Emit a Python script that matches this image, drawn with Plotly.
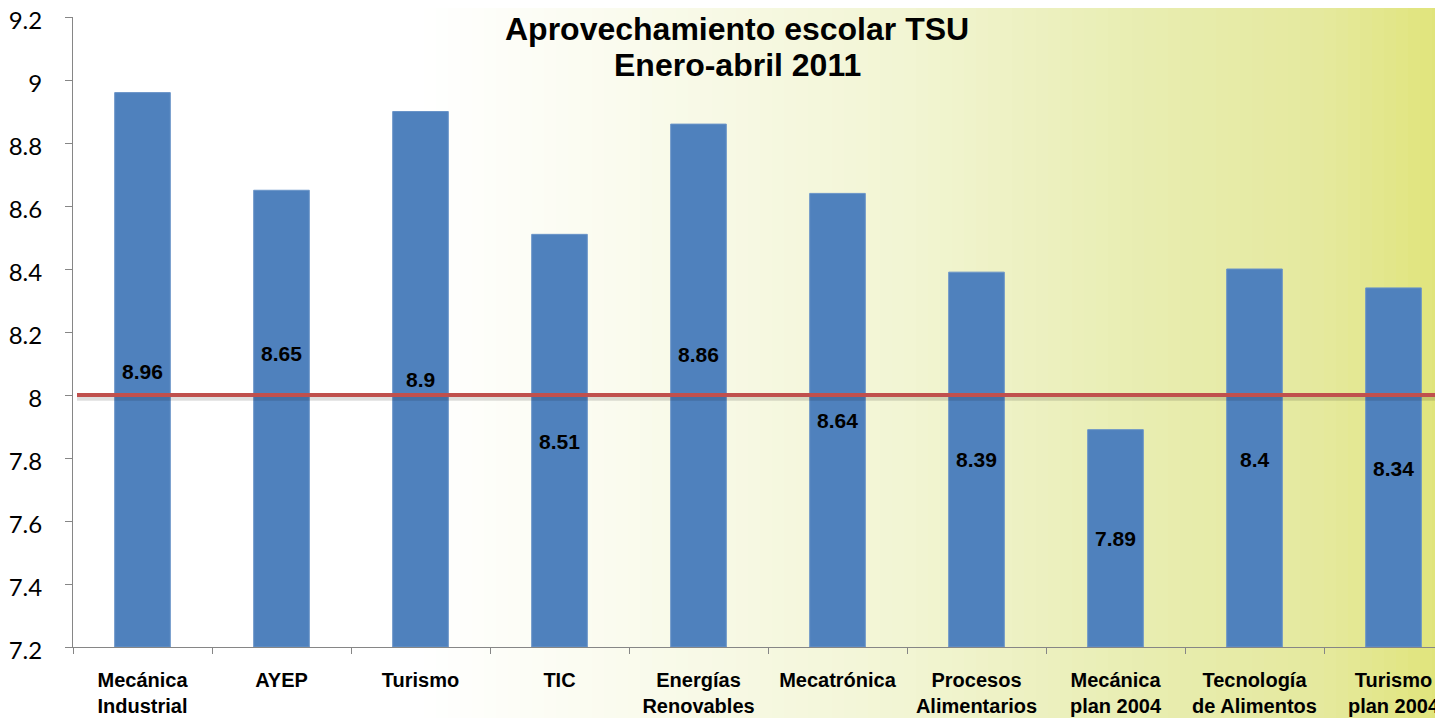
import plotly.graph_objects as go

categories = ["Mecánica<br>Industrial", "AYEP", "Turismo", "TIC", "Energías<br>Renovables",
              "Mecatrónica", "Procesos<br>Alimentarios", "Mecánica<br>plan 2004",
              "Tecnología<br>de Alimentos", "Turismo<br>plan 2004"]
values = [8.96, 8.65, 8.9, 8.51, 8.86, 8.64, 8.39, 7.89, 8.4, 8.34]
value_labels = ["8.96", "8.65", "8.9", "8.51", "8.86", "8.64", "8.39", "7.89", "8.4", "8.34"]
y_min, y_max = 7.2, 9.2
y_ticks = [7.2, 7.4, 7.6, 7.8, 8, 8.2, 8.4, 8.6, 8.8, 9, 9.2]
y_tick_text = ["7.2", "7.4", "7.6", "7.8", "8", "8.2", "8.4", "8.6", "8.8", "9", "9.2"]
threshold = 8.0
title_lines = ["Aprovechamiento escolar TSU", "Enero-abril 2011"]

# layout: vertical placement of the (manually positioned) data labels, in axis units
label_pos = [8.074, 8.132, 8.048, 7.852, 8.127, 7.918, 7.794, 7.545, 7.796, 7.767]

# page body margin offset of 8px is compensated here
OFF = 8
SW, SH = 1443, 718                       # screen size
S_LEFT, S_TOP, S_BOTTOM = 73, 17, 647    # plot area on screen
W, H = SW - OFF, SH - OFF
ml, mt = S_LEFT - OFF, S_TOP - OFF
mb = H - (S_BOTTOM - OFF)
plot_w = W - ml
plot_h = H - mt - mb

def px_x(sx):
    return (sx - S_LEFT) / plot_w
def px_y(sy):
    return (S_BOTTOM - sy) / plot_h

fig = go.Figure()
fig.add_trace(go.Bar(
    x=categories, y=[v - y_min for v in values], base=y_min,
    marker=dict(color="#4F81BD", line=dict(color="#6A94C8", width=1)),
    width=0.4, hoverinfo="skip",
))

annotations = []
for c, lab, yp in zip(categories, value_labels, label_pos):
    annotations.append(dict(x=c, y=yp, xref="x", yref="y", text=lab, showarrow=False,
                            xanchor="center", yanchor="middle",
                            font=dict(family="Liberation Sans", size=21, color="black",
                                      weight="bold")))
for line, ypx in zip(title_lines, [29, 65]):
    annotations.append(dict(x=px_x(737), y=px_y(ypx), xref="paper", yref="paper",
                            text="<b>%s</b>" % line, showarrow=False,
                            xanchor="center", yanchor="middle",
                            font=dict(family="Liberation Sans", size=32, color="black")))

# background gradient
stops = [(0, (255, 255, 255)), (420, (255, 255, 255)), (620, (250, 251, 238)),
         (900, (242, 245, 212)), (1150, (232, 237, 176)), (1320, (229, 233, 158)),
         (1443, (224, 228, 122))]
def col_at(px):
    for (a, ca), (b, cb) in zip(stops[:-1], stops[1:]):
        if a <= px <= b:
            t = (px - a) / (b - a) if b > a else 0
            c = [round(ca[i] + (cb[i] - ca[i]) * t) for i in range(3)]
            return "rgb(%d,%d,%d)" % tuple(c)
    return "rgb(%d,%d,%d)" % stops[-1][1]

shapes = []
step = 12
for sx in range(400, SW, step):
    shapes.append(dict(type="rect", xref="paper", yref="paper", layer="below",
                       x0=px_x(sx), x1=px_x(sx + step + 1),
                       y0=px_y(SH + 5), y1=px_y(0),
                       line=dict(width=0), fillcolor=col_at(sx + step / 2)))

shapes.append(dict(type="line", xref="paper", yref="y", x0=px_x(77), x1=px_x(1440),
                   y0=threshold - 0.007, y1=threshold - 0.007,
                   line=dict(color="rgba(0,0,0,0.13)", width=7), layer="above"))
shapes.append(dict(type="line", xref="paper", yref="y", x0=px_x(77), x1=px_x(1437),
                   y0=threshold, y1=threshold,
                   line=dict(color="#C0504D", width=4), layer="above"))

fig.update_layout(
    width=W, height=H,
    margin=dict(l=ml, r=0, t=mt, b=mb, pad=0),
    paper_bgcolor="white", plot_bgcolor="rgba(0,0,0,0)",
    showlegend=False,
    shapes=shapes, annotations=annotations,
    xaxis=dict(range=[-0.5, -0.5 + plot_w / 139.0], tickson="boundaries", automargin=False,
               ticks="outside", ticklen=6, tickcolor="#868686", tickwidth=1,
               showline=True, linecolor="#868686", linewidth=1,
               showgrid=False, zeroline=False, ticklabelstandoff=15,
               ticklabeloverflow="allow",
               tickfont=dict(family="Liberation Sans", size=20, color="black", weight="bold")),
    yaxis=dict(range=[y_min, y_max], tickmode="array", tickvals=y_ticks, ticktext=y_tick_text,
               automargin=False, ticklabeloverflow="allow", ticklabelshift=4,
               ticks="outside", ticklen=7, tickcolor="#868686", tickwidth=1,
               showline=True, linecolor="#868686", linewidth=1,
               showgrid=False, zeroline=False, ticklabelstandoff=18,
               tickfont=dict(family="Lato", size=24, color="black")),
)

fig.write_html("out.html")
